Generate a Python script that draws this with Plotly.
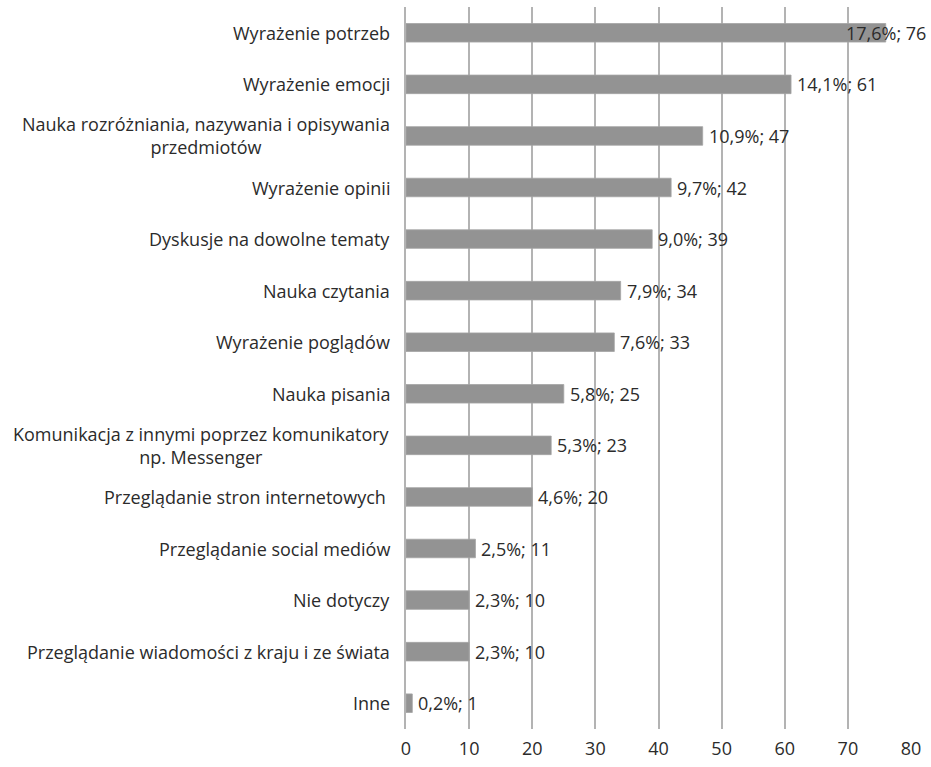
import plotly.graph_objects as go

# Survey answers (top to bottom), counts and shares
categories = [
    "Wyrażenie potrzeb",
    "Wyrażenie emocji",
    "Nauka rozróżniania, nazywania i opisywania<br>przedmiotów",
    "Wyrażenie opinii",
    "Dyskusje na dowolne tematy",
    "Nauka czytania",
    "Wyrażenie poglądów",
    "Nauka pisania",
    "Komunikacja z innymi poprzez komunikatory<br>np. Messenger",
    "Przeglądanie stron internetowych ",
    "Przeglądanie social mediów",
    "Nie dotyczy",
    "Przeglądanie wiadomości z kraju i ze świata",
    "Inne",
]
counts = [76, 61, 47, 42, 39, 34, 33, 25, 23, 20, 11, 10, 10, 1]
shares = ["17,6%", "14,1%", "10,9%", "9,7%", "9,0%", "7,9%", "7,6%",
          "5,8%", "5,3%", "4,6%", "2,5%", "2,3%", "2,3%", "0,2%"]
x_ticks = [0, 10, 20, 30, 40, 50, 60, 70, 80]

FONT = "Open Sans"
FONT_SIZE = 18
TEXT_COLOR = "#2b2b2b"
BAR_COLOR = "#939393"
GRID_COLOR = "#b3b3b3"

labels = [f"{s}; {c}" for s, c in zip(shares, counts)]
ids = list(range(len(categories)))

fig = go.Figure(
    go.Bar(
        x=counts,
        y=ids,
        orientation="h",
        marker=dict(color=BAR_COLOR, line=dict(color="#a5a5a5", width=0.8)),
        width=0.36,
        hoverinfo="skip",
    )
)

# Category labels as centred multi-line annotations left of the axis
for i, cat in zip(ids, categories):
    fig.add_annotation(
        x=0, xref="paper", xanchor="right", xshift=-14,
        y=i, yref="y", yanchor="middle",
        text=cat, showarrow=False, align="center",
        font=dict(family=FONT, size=FONT_SIZE, color=TEXT_COLOR),
    )

# Value labels after each bar end; the longest one is pulled back to stay on the page
for i, (c, lab) in enumerate(zip(counts, labels)):
    fig.add_annotation(
        x=c, xref="x", xanchor="left", xshift=(-42 if i == 0 else 4),
        y=i, yref="y", yanchor="middle",
        text=lab, showarrow=False,
        font=dict(family=FONT, size=FONT_SIZE, color=TEXT_COLOR),
    )

fig.update_layout(
    width=931, height=767,
    margin=dict(l=406, r=20, t=7, b=38),
    paper_bgcolor="white", plot_bgcolor="white",
    showlegend=False,
    xaxis=dict(
        range=[0, 80], tickvals=x_ticks, showgrid=True,
        gridcolor=GRID_COLOR, gridwidth=1.5, zeroline=False,
        showline=False,
        tickfont=dict(family=FONT, size=FONT_SIZE, color=TEXT_COLOR),
        ticks="", ticklabelstandoff=7,
    ),
    yaxis=dict(
        range=[len(categories) - 0.5, -0.5],
        showticklabels=False, showgrid=False, zeroline=False,
        showline=True, linecolor=GRID_COLOR, linewidth=1.5,
    ),
)

fig.write_html("out.html")
